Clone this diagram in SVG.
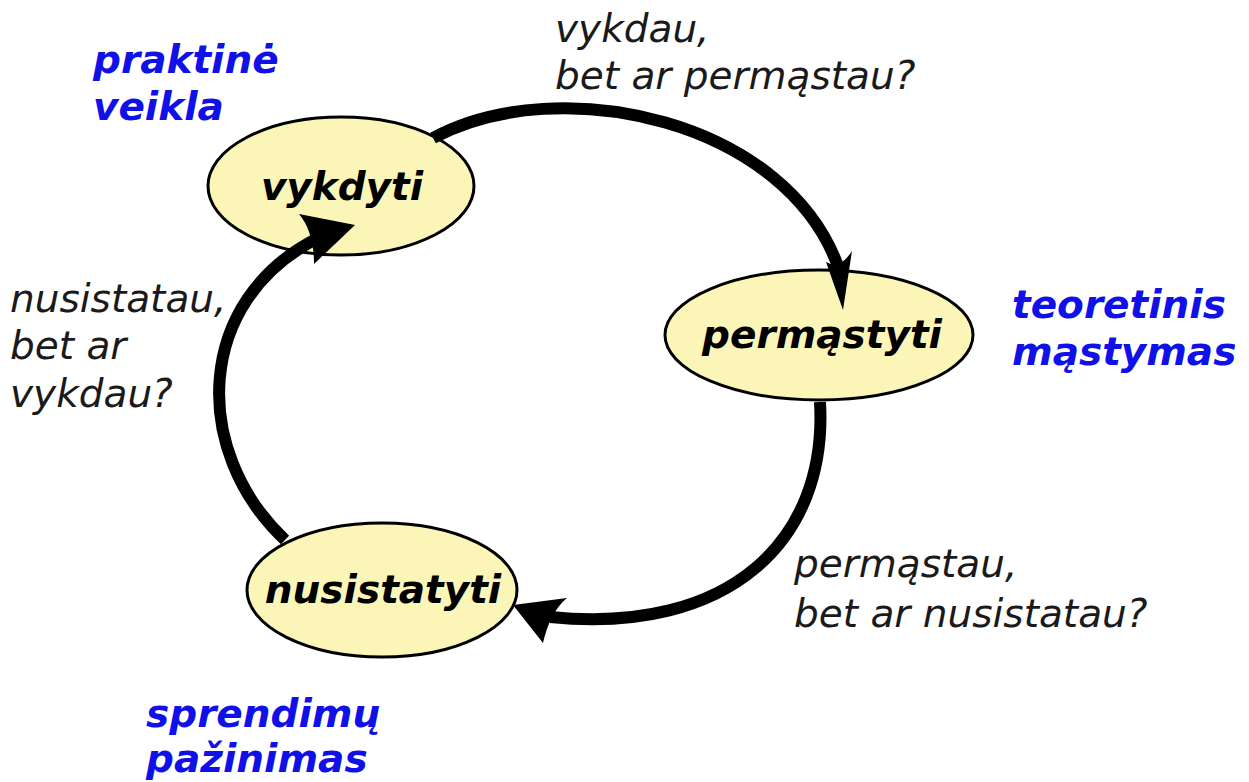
<svg xmlns="http://www.w3.org/2000/svg" width="1249" height="782" viewBox="0 0 1249 782">
<style>
.node ellipse{fill:#fbf6b8;stroke:#000;stroke-width:3}
.node text{font-family:"DejaVu Sans",sans-serif;font-weight:bold;font-style:oblique;font-size:39px;fill:#000;text-anchor:middle}
.blue{font-family:"DejaVu Sans",sans-serif;font-weight:bold;font-style:oblique;font-size:39px;fill:#1010e8}
.lbl{font-family:"DejaVu Sans",sans-serif;font-style:oblique;font-size:39px;fill:#1a1a1a}
.conn{fill:none;stroke:#000;stroke-width:12}
.head{fill:#000;stroke:none}
</style>
<rect width="1249" height="782" fill="#fff"/>
<g id="node-vykdyti" class="node">
<ellipse cx="341" cy="186" rx="133" ry="69"/>
<text x="342" y="200">vykdyti</text>
</g>
<g id="node-permastyti" class="node">
<ellipse cx="819" cy="335" rx="154" ry="65"/>
<text x="822" y="348">permąstyti</text>
</g>
<g id="node-nusistatyti" class="node">
<ellipse cx="382" cy="590" rx="135" ry="67"/>
<text x="383" y="603">nusistatyti</text>
</g>
<g id="connectors">
<path class="conn" d="M 433 138 C 560 70, 790 120, 840 272"/>
<path class="head" d="M 843 310 L 826 262 Q 840 270 852 251 Z"/>
<path class="conn" d="M 820 402 C 828 540, 730 635, 550 617"/>
<path class="head" d="M 513 605 L 567 598 Q 550 612 543 643 Z"/>
<path class="conn" d="M 285 540 C 190 450, 195 300, 318 238"/>
<path class="head" d="M 355 225 L 299 214 Q 314 232 314 264 Z"/>
</g>
<g id="labels">
<text class="lbl" x="555" y="42">vykdau,</text>
<text class="lbl" x="555" y="89">bet ar permąstau?</text>
<text class="lbl" x="10" y="312">nusistatau,</text>
<text class="lbl" x="10" y="359">bet ar</text>
<text class="lbl" x="10" y="407">vykdau?</text>
<text class="lbl" x="794" y="577">permąstau,</text>
<text class="lbl" x="794" y="627">bet ar nusistatau?</text>
<text class="blue" x="93" y="73">praktinė</text>
<text class="blue" x="93" y="120">veikla</text>
<text class="blue" x="1012" y="318">teoretinis</text>
<text class="blue" x="1012" y="365">mąstymas</text>
<text class="blue" x="146" y="727">sprendimų</text>
<text class="blue" x="146" y="772">pažinimas</text>
</g>
</svg>
